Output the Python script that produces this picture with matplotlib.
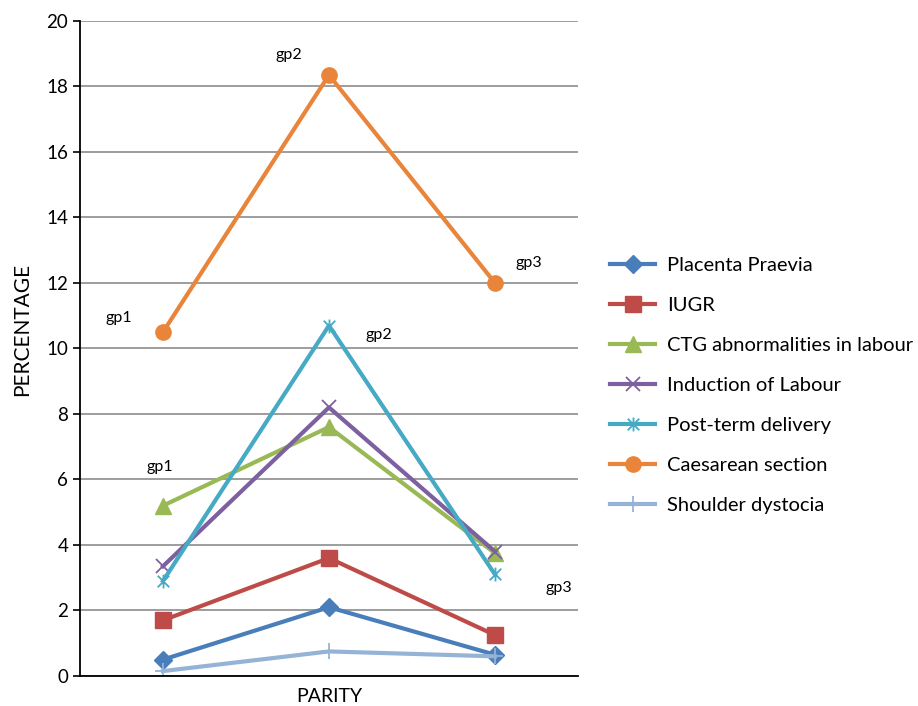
import matplotlib
matplotlib.use("Agg")
import matplotlib.pyplot as plt
from matplotlib.path import Path

# groups along the x axis
groups = ["gp1", "gp2", "gp3"]

placenta_praevia = [0.5, 2.1, 0.65]
iugr = [1.7, 3.6, 1.25]
ctg_abnormal = [5.2, 7.6, 3.75]
induction = [3.35, 8.2, 3.8]
post_term = [2.9, 10.7, 3.1]
caesarean = [10.5, 18.35, 12.0]
shoulder = [0.15, 0.75, 0.6]

series_names = ["Placenta Praevia", "IUGR", "CTG abnormalities in labour",
                "Induction of Labour", "Post-term delivery", "Caesarean section",
                "Shoulder dystocia"]
yticks = [0, 2, 4, 6, 8, 10, 12, 14, 16, 18, 20]

plt.rcParams['font.family'] = ['Lato', 'DejaVu Sans']

# Excel style star: an x with a vertical stroke
star_path = Path([(-1, -1), (1, 1), (-1, 1), (1, -1), (0, -1.2), (0, 1.2)],
                 [Path.MOVETO, Path.LINETO, Path.MOVETO, Path.LINETO, Path.MOVETO, Path.LINETO])

styles = [
    dict(color="#4A7EBB", marker="D", ms=9),
    dict(color="#BE4B48", marker="s", ms=11),
    dict(color="#98B954", marker="^", ms=11),
    dict(color="#7D60A0", marker="x", ms=10, mew=1.3),
    dict(color="#46AAC5", marker=star_path, ms=10, mew=1.3),
    dict(color="#E8853A", marker="o", ms=11),
    dict(color="#95B3D7", marker="+", ms=11, mew=1.3),
]

fig = plt.figure(figsize=(9.18, 7.06), dpi=100)
ax = fig.add_axes([0.0871, 0.0425, 0.5425, 0.9278])

x = list(range(len(groups)))
data = [placenta_praevia, iugr, ctg_abnormal, induction, post_term, caesarean, shoulder]
for vals, name, st in zip(data, series_names, styles):
    ax.plot(x, vals, color=st["color"], lw=3, marker=st["marker"], markersize=st["ms"],
            markeredgewidth=st.get("mew", 1), label=name)

# data labels (offsets in pixels from the point)
labels = [
    ("gp1", 0, caesarean[0], -57, 14),
    ("gp2", 1, caesarean[1], -53, 20),
    ("gp3", 2, caesarean[2], 21, 20),
    ("gp1", 0, ctg_abnormal[0], -16, 39),
    ("gp2", 1, post_term[1], 37, -9),
    ("gp3", 2, post_term[2], 51, -14),
]
for txt, xi, yi, dx, dy in labels:
    ax.annotate(txt, (xi, yi), xytext=(dx, dy), textcoords="offset pixels",
                fontsize=11.5, ha="left", va="center")

ax.set_xlim(-0.5, 2.5)
ax.set_ylim(0, 20)
ax.set_yticks(yticks)
ax.set_xticks([])
ax.tick_params(axis="y", labelsize=13.5, length=5, width=1.2, direction="out")
ax.yaxis.grid(True, color="#8C8C8C", lw=1.2)
ax.set_axisbelow(True)
for s in ["top", "right"]:
    ax.spines[s].set_visible(False)
ax.spines["left"].set_linewidth(1.3)
ax.spines["bottom"].set_linewidth(1.3)
ax.set_ylabel("PERCENTAGE", fontsize=15)
ax.yaxis.set_label_coords(-0.097, 0.529)
ax.set_xlabel("PARITY", fontsize=14, labelpad=9)

ax.legend(loc="center left", bbox_to_anchor=(1.064, 0.4435), frameon=False, fontsize=14.5,
          handlelength=2.25, handletextpad=0.6, labelspacing=1.13, borderpad=0,
          borderaxespad=0)

fig.savefig("out.png", dpi=100)
